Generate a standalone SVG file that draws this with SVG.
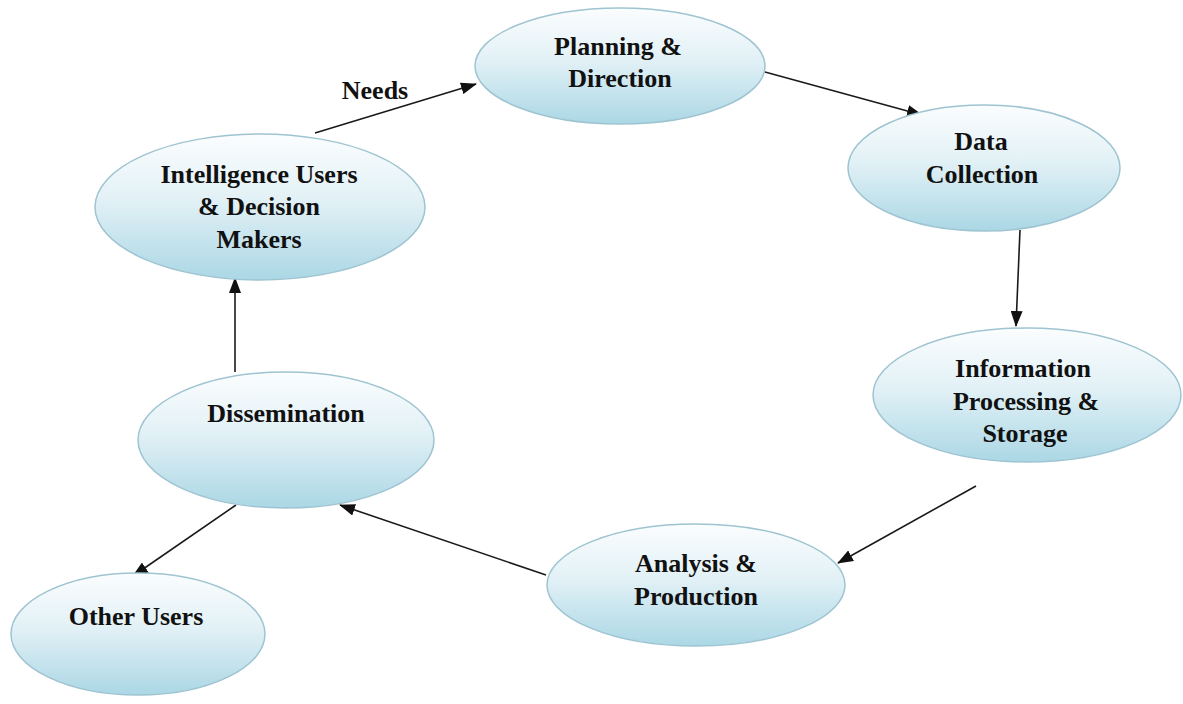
<svg xmlns="http://www.w3.org/2000/svg" width="1183" height="704" viewBox="0 0 1183 704">
<style>
.node ellipse{fill:url(#g);stroke:#9fc4d1;stroke-width:1.5}
.t{font-family:"Liberation Serif","Times New Roman",serif;font-weight:bold;font-size:26px;fill:#111;text-anchor:middle}
.c line{stroke:#1a1a1a;stroke-width:1.6;marker-end:url(#a)}
</style>
<defs>
<linearGradient id="g" x1="0" y1="0" x2="0" y2="1">
<stop offset="0" stop-color="#fbfdfe"/>
<stop offset="0.45" stop-color="#e2f1f6"/>
<stop offset="1" stop-color="#abd7e5"/>
</linearGradient>
<marker id="a" markerUnits="userSpaceOnUse" markerWidth="16" markerHeight="12" refX="15" refY="6" orient="auto">
<path d="M0,0 L16,6 L0,12 z" fill="#111"/>
</marker>
</defs>
<rect width="1183" height="704" fill="#fff"/>
<g id="connectors" class="c">
<line x1="315" y1="133" x2="476" y2="84"/>
<line x1="765" y1="72" x2="922" y2="115"/>
<line x1="1020" y1="230" x2="1016" y2="326"/>
<line x1="976" y1="486" x2="838" y2="563"/>
<line x1="546" y1="575" x2="340" y2="505"/>
<line x1="235" y1="372" x2="235" y2="278"/>
<line x1="236" y1="505" x2="133" y2="576"/>
</g>
<text class="t" x="375" y="99">Needs</text>
<g id="planning" class="node">
<ellipse cx="620" cy="66" rx="145" ry="58"/>
<text class="t" x="618" y="55">Planning &amp;</text>
<text class="t" x="620" y="87">Direction</text>
</g>
<g id="collection" class="node">
<ellipse cx="984" cy="168" rx="136" ry="63"/>
<text class="t" x="981" y="150">Data</text>
<text class="t" x="982" y="183">Collection</text>
</g>
<g id="processing" class="node">
<ellipse cx="1027" cy="395" rx="154" ry="67"/>
<text class="t" x="1023" y="377">Information</text>
<text class="t" x="1026" y="410">Processing &amp;</text>
<text class="t" x="1025" y="442">Storage</text>
</g>
<g id="analysis" class="node">
<ellipse cx="696" cy="585" rx="149" ry="61"/>
<text class="t" x="696" y="572">Analysis &amp;</text>
<text class="t" x="696" y="605">Production</text>
</g>
<g id="dissemination" class="node">
<ellipse cx="286" cy="440" rx="148" ry="68"/>
<text class="t" x="286" y="422">Dissemination</text>
</g>
<g id="users" class="node">
<ellipse cx="260" cy="207" rx="165" ry="73"/>
<text class="t" x="259" y="183">Intelligence Users</text>
<text class="t" x="259" y="215">&amp; Decision</text>
<text class="t" x="259" y="248">Makers</text>
</g>
<g id="other" class="node">
<ellipse cx="138" cy="634" rx="127" ry="61"/>
<text class="t" x="136" y="625">Other Users</text>
</g>
</svg>
